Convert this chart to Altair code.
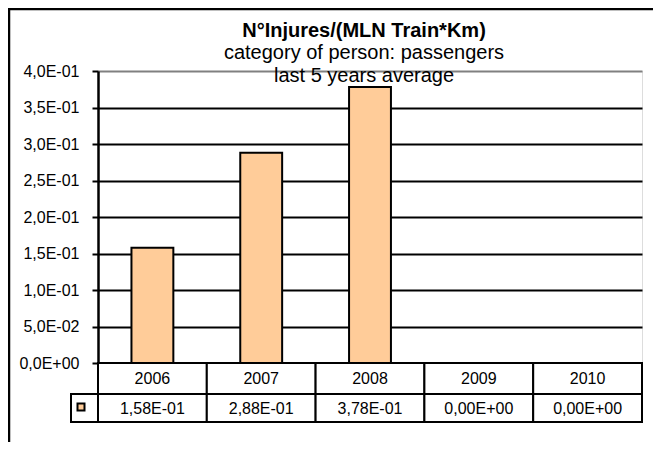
import altair as alt
import pandas as pd

# ---- data ----
years = ["2006", "2007", "2008", "2009", "2010"]
injuries = [0.158, 0.288, 0.378, 0.0, 0.0]
tick_values = [0.0, 0.05, 0.10, 0.15, 0.20, 0.25, 0.30, 0.35, 0.40]
tick_labels = ["0,0E+00", "5,0E-02", "1,0E-01", "1,5E-01", "2,0E-01",
               "2,5E-01", "3,0E-01", "3,5E-01", "4,0E-01"]
title_text = ["N°Injures/(MLN Train*Km)"]
subtitle_lines = ["category of person: passengers", "last 5 years  average"]

BAR = "#FFCC99"
FONT = "Liberation Sans"
W, H = 544, 292

df = pd.DataFrame({
    "year": years,
    "value": injuries,
    "label": [f"{v:.2E}".replace(".", ",") for v in injuries],
})

expr = ""
for v, lab in zip(tick_values[:-1], tick_labels[:-1]):
    expr += f"datum.value < {v + 0.025:.3f} ? '{lab}' : "
expr += f"'{tick_labels[-1]}'"

x = alt.X("year:N", sort=years, axis=None,
          scale=alt.Scale(paddingInner=0, paddingOuter=0))
base = alt.Chart(df)
one = alt.Chart(alt.Data(values=[{"k": 1}]))

bars = base.mark_bar(width=alt.RelativeBandSize(0.385), fill=BAR,
                     stroke="black", strokeWidth=2).encode(
    x=x,
    y=alt.Y("value:Q",
            scale=alt.Scale(domain=[0, 0.4], nice=False, zero=True),
            axis=alt.Axis(values=tick_values, labelExpr=expr, title=None,
                          grid=True,
                          gridColor=alt.condition("datum.value >= 0.39",
                                                  alt.value("#808080"),
                                                  alt.value("black")),
                          gridWidth=2, gridOpacity=1,
                          domainColor="black", domainWidth=2.5,
                          tickColor="black", tickWidth=2, tickSize=6,
                          labelPadding=13, labelFontSize=16, labelFont=FONT,
                          labelColor="black")),
)

row1_rect = base.mark_rect(fill="white", stroke="black", strokeWidth=2).encode(
    x=x, y=alt.value(292), y2=alt.value(323))
row1_text = base.mark_text(fontSize=16, font=FONT, color="black").encode(
    x=x, y=alt.value(308), text="year:N")
row2_rect = base.mark_rect(fill="white", stroke="black", strokeWidth=2).encode(
    x=x, y=alt.value(323), y2=alt.value(351))
row2_text = base.mark_text(fontSize=16, font=FONT, color="black").encode(
    x=x, y=alt.value(337.5), text="label:N")

legend_cell = one.mark_rect(fill="white", stroke="black", strokeWidth=2).encode(
    x=alt.value(-27), x2=alt.value(0), y=alt.value(323), y2=alt.value(351))
legend_sym = one.mark_square(size=49, fill=BAR, stroke="black", strokeWidth=2,
                             opacity=1).encode(
    x=alt.value(-17), y=alt.value(336))

frame_left = one.mark_rule(color="black", strokeWidth=2.5).encode(
    x=alt.value(-89), y=alt.value(-63), y2=alt.value(400))
frame_top = one.mark_rule(color="black", strokeWidth=2.5).encode(
    y=alt.value(-62), x=alt.value(-90), x2=alt.value(600))

title_df = pd.DataFrame({"t": title_text})
sub_df = pd.DataFrame({"t": subtitle_lines, "i": list(range(len(subtitle_lines)))})

title_mark = alt.Chart(title_df).mark_text(
    font=FONT, fontSize=20, fontWeight="bold", color="black",
    align="center", baseline="alphabetic").encode(
    x=alt.value(266), y=alt.value(-34), text="t:N")
sub_mark1 = alt.Chart(sub_df).transform_filter("datum.i == 0").mark_text(
    font=FONT, fontSize=20, color="black",
    align="center", baseline="alphabetic").encode(
    x=alt.value(266), y=alt.value(-12), text="t:N")
sub_mark2 = alt.Chart(sub_df).transform_filter("datum.i == 1").mark_text(
    font=FONT, fontSize=20, color="black",
    align="center", baseline="alphabetic").encode(
    x=alt.value(266), y=alt.value(11), text="t:N")

chart = alt.layer(
    frame_left, frame_top, bars, row1_rect, row2_rect, row1_text, row2_text,
    legend_cell, legend_sym, title_mark, sub_mark1, sub_mark2,
).properties(
    width=W, height=H,
    autosize=alt.AutoSizeParams(type="none"),
    padding={"left": 90, "top": 63, "right": 11, "bottom": 79},
).configure_view(
    stroke="#808080", strokeWidth=2
).configure(background="white")

chart.save("out.html", embed_options={"renderer": "svg", "actions": False})
